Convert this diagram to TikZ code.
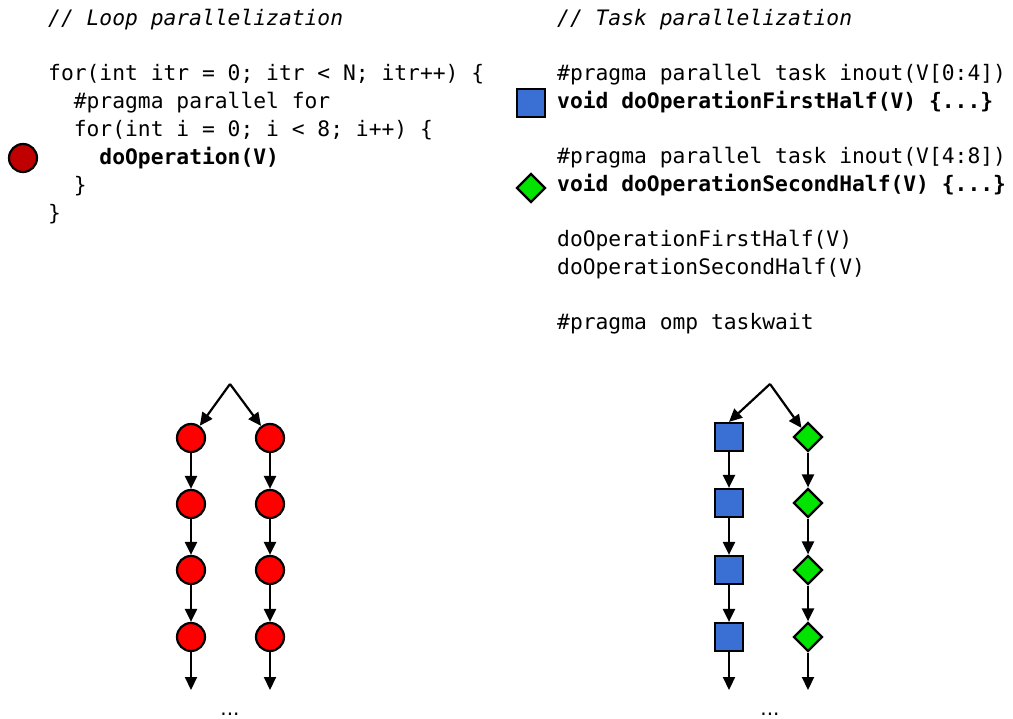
\documentclass[tikz,border=0pt]{standalone}
\usepackage{fontspec}
\setmainfont{DejaVu Sans}
\setmonofont{DejaVu Sans Mono}
\usetikzlibrary{arrows.meta,shapes.geometric}
\definecolor{darkred}{HTML}{C00000}
\definecolor{brightred}{HTML}{FF0000}
\definecolor{taskblue}{HTML}{3A70D4}
\definecolor{taskgreen}{HTML}{00E400}
\tikzset{
  code/.style={anchor=base west, inner sep=0pt, font=\fontsize{21.3}{28}\selectfont\ttfamily},
  codeb/.style={code, font=\fontsize{21.3}{28}\selectfont\ttfamily\bfseries},
  codei/.style={code, font=\fontsize{21.3}{28}\selectfont\ttfamily\itshape},
  loopnode/.style={circle, draw=black, line width=2.2pt, fill=brightred, minimum size=28pt, inner sep=0pt},
  sqnode/.style={rectangle, draw=black, line width=2.2pt, fill=taskblue, minimum size=28pt, inner sep=0pt},
  dmnode/.style={diamond, draw=black, line width=2.2pt, fill=taskgreen, minimum width=29pt, minimum height=29pt, inner sep=0pt},
  edge/.style={line width=2.2pt, -{Triangle[length=13pt,width=12pt]}},
  dots/.style={anchor=base, font=\fontsize{20}{20}\selectfont, inner sep=0pt}
}
\begin{document}
\begin{tikzpicture}[x=1pt,y=-1pt]
\useasboundingbox (0,0) rectangle (1013,719);
% left code
\node[codei] (lc0) at (48,26) {// Loop parallelization};
\node[code] (lc1) at (48,81) {for(int itr = 0; itr < N; itr++) \{};
\node[code] (lc2) at (48,109) {\ \ \#pragma parallel for};
\node[code] (lc3) at (48,137) {\ \ for(int i = 0; i < 8; i++) \{};
\node[codeb] (lc4) at (48,165) {\ \ \ \ doOperation(V)};
\node[code] (lc5) at (48,193) {\ \ \}};
\node[code] (lc6) at (48,221) {\}};
\node[circle, draw=black, line width=2.2pt, fill=darkred, minimum size=28pt, inner sep=0pt] (licon) at (23,158) {};
% right code
\node[codei] (rc0) at (557,26) {// Task parallelization};
\node[code] (rc1) at (557,81) {\#pragma parallel task inout(V[0:4])};
\node[codeb] (rc2) at (557,109) {void doOperationFirstHalf(V) \{...\}};
\node[code] (rc3) at (557,164) {\#pragma parallel task inout(V[4:8])};
\node[codeb] (rc4) at (557,192) {void doOperationSecondHalf(V) \{...\}};
\node[code] (rc5) at (557,247) {doOperationFirstHalf(V)};
\node[code] (rc6) at (557,275) {doOperationSecondHalf(V)};
\node[code] (rc7) at (557,330) {\#pragma omp taskwait};
\node[sqnode] (ricon1) at (531,103) {};
\node[dmnode] (ricon2) at (531,188) {};
% left graph
\coordinate (la) at (230,384);
\foreach \i/\y in {1/438,2/504,3/570,4/637}{
  \node[loopnode] (l\i) at (191,\y) {};
  \node[loopnode] (r\i) at (270,\y) {};
}
\coordinate (lend) at (191,690);
\coordinate (rend) at (270,690);
\draw[edge] (la) -- (l1);
\draw[edge] (la) -- (r1);
\foreach \a/\b in {1/2,2/3,3/4}{
  \draw[edge] (l\a) -- (l\b);
  \draw[edge] (r\a) -- (r\b);
}
\draw[edge] (l4) -- (lend);
\draw[edge] (r4) -- (rend);
\node[dots] (ldots) at (230,715) {...};
% right graph
\coordinate (ta) at (770,384);
\foreach \i/\y in {1/437,2/503,3/570,4/637}{
  \node[sqnode] (s\i) at (729,\y) {};
  \node[dmnode] (d\i) at (808,\y) {};
}
\coordinate (send) at (729,690);
\coordinate (dend) at (808,690);
\draw[edge] (ta) -- (s1.north);
\draw[edge] (ta) -- (d1);
\foreach \a/\b in {1/2,2/3,3/4}{
  \draw[edge] (s\a) -- (s\b);
  \draw[edge] (d\a) -- (d\b);
}
\draw[edge] (s4) -- (send);
\draw[edge] (d4) -- (dend);
\node[dots] (rdots) at (770,715) {...};
\end{tikzpicture}
\end{document}
